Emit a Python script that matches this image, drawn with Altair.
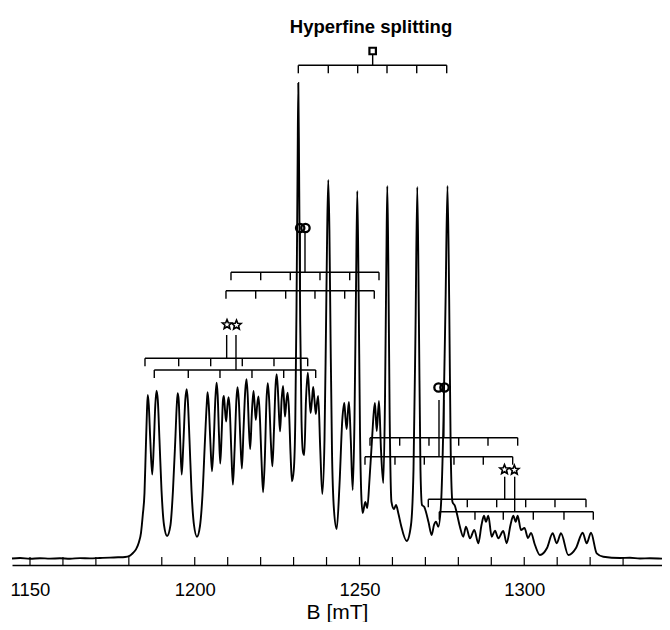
import altair as alt
import pandas as pd

# ---------------- spectrum (B in mT, intensity in arbitrary units) ----------------
FIELD_MT = [
    1144.54, 1146.97, 1150.00, 1153.03, 1156.07, 1159.10, 1162.14, 1165.17, 1168.21, 1171.24,
    1174.28, 1176.71, 1178.83, 1180.23, 1181.26, 1182.17, 1183.08, 1183.69, 1184.23, 1184.75,
    1185.14, 1185.51, 1185.75, 1186.05, 1186.51, 1187.09, 1187.57, 1188.03, 1188.39, 1188.79,
    1189.30, 1189.91, 1190.67, 1191.61, 1192.64, 1193.40, 1194.10, 1194.55, 1194.83, 1195.13,
    1195.58, 1196.04, 1196.53, 1197.13, 1197.56, 1197.89, 1198.41, 1199.01, 1199.77, 1200.68,
    1201.59, 1202.35, 1203.11, 1203.63, 1203.90, 1204.26, 1204.72, 1205.24, 1205.78, 1206.24,
    1206.63, 1206.96, 1207.36, 1207.75, 1208.21, 1208.57, 1208.85, 1209.18, 1209.54, 1209.94,
    1210.27, 1210.64, 1211.09, 1211.58, 1212.09, 1212.64, 1212.97, 1213.37, 1213.85, 1214.31,
    1214.80, 1215.34, 1215.71, 1216.07, 1216.46, 1216.83, 1217.31, 1217.83, 1218.19, 1218.53,
    1218.95, 1219.35, 1219.74, 1220.26, 1220.74, 1221.26, 1221.78, 1222.17, 1222.59, 1223.14,
    1223.57, 1224.05, 1224.54, 1224.87, 1225.24, 1225.57, 1225.90, 1226.36, 1226.78, 1227.09,
    1227.39, 1227.85, 1228.21, 1228.60, 1229.09, 1229.51, 1230.06, 1230.52, 1230.88, 1231.21,
    1231.43, 1231.67, 1232.00, 1232.40, 1232.85, 1233.25, 1233.76, 1234.31, 1234.77, 1235.16,
    1235.58, 1235.95, 1236.34, 1236.74, 1237.10, 1237.47, 1238.10, 1238.71, 1239.38, 1239.83,
    1240.20, 1240.53, 1240.87, 1241.23, 1241.65, 1242.26, 1243.08, 1243.93, 1244.78, 1245.39,
    1245.75, 1246.12, 1246.48, 1246.81, 1247.36, 1247.94, 1248.48, 1248.94, 1249.33, 1249.73,
    1250.15, 1250.55, 1250.97, 1251.76, 1252.37, 1253.03, 1253.79, 1254.34, 1254.70, 1255.22,
    1255.92, 1256.53, 1257.22, 1257.74, 1258.16, 1258.44, 1258.74, 1259.14, 1259.71, 1260.47,
    1261.08, 1261.84, 1262.59, 1264.33, 1265.63, 1266.39, 1267.00, 1267.54, 1268.03, 1268.51,
    1268.97, 1269.67, 1270.18, 1270.94, 1271.91, 1272.61, 1273.22, 1273.92, 1274.73, 1275.49,
    1276.13, 1276.71, 1277.22, 1277.68, 1278.22, 1278.98, 1279.59, 1280.50, 1281.50, 1282.32,
    1283.54, 1284.84, 1286.06, 1287.03, 1287.78, 1288.39, 1289.09, 1290.12, 1291.12, 1292.13,
    1293.64, 1294.67, 1295.83, 1296.68, 1297.41, 1298.01, 1299.01, 1300.08, 1301.14, 1302.05,
    1303.26, 1304.78, 1306.91, 1308.63, 1309.85, 1311.15, 1313.37, 1315.71, 1317.74, 1318.95,
    1320.26, 1321.99, 1324.00, 1329.06, 1332.09, 1335.13, 1338.16, 1341.81,
]
INTENSITY = [
    6.5, 7.0, 6.2, 6.8, 6.4, 6.7, 6.3, 6.9, 6.6, 7.0,
    7.4, 7.7, 8.0, 9.2, 12.0, 15.6, 23.0, 32.2, 50.0, 72.0,
    115.0, 155.0, 170.0, 160.0, 125.0, 90.4, 120.0, 160.0, 174.4, 165.0,
    125.0, 75.0, 40.0, 29.0, 40.0, 75.0, 125.0, 160.0, 171.8, 165.0,
    125.0, 90.4, 120.0, 165.0, 175.8, 165.0, 125.0, 75.0, 40.0, 28.3,
    39.0, 70.0, 125.0, 160.0, 172.8, 160.0, 125.0, 93.7, 125.0, 165.0,
    182.4, 170.0, 130.0, 101.4, 135.0, 165.0, 169.1, 155.0, 143.5, 160.0,
    167.8, 155.0, 115.0, 80.4, 115.0, 165.0, 177.8, 165.0, 125.0, 96.4,
    135.0, 175.0, 185.7, 170.0, 135.0, 116.0, 150.0, 174.1, 160.0, 145.2,
    160.0, 168.5, 150.0, 105.0, 72.8, 105.0, 165.0, 181.7, 165.0, 120.0,
    98.7, 135.0, 180.0, 190.7, 175.0, 150.0, 133.6, 165.0, 179.1, 165.0,
    148.5, 165.0, 172.4, 155.0, 110.0, 83.7, 95.0, 145.0, 255.0, 395.0,
    482.0, 395.0, 245.0, 145.0, 113.0, 110.0, 165.0, 192.4, 170.0, 152.0,
    165.0, 178.0, 165.0, 151.0, 162.0, 169.0, 115.0, 71.0, 125.0, 235.0,
    335.0, 385.0, 335.0, 225.0, 115.0, 55.0, 36.0, 80.0, 145.0, 162.0,
    147.0, 136.0, 153.0, 163.0, 125.0, 75.0, 145.0, 275.0, 374.0, 275.0,
    135.0, 70.0, 52.0, 63.0, 57.0, 85.0, 125.0, 153.0, 162.0, 134.0,
    164.0, 115.0, 82.0, 165.0, 305.0, 379.0, 305.0, 155.0, 63.0, 56.0,
    60.0, 51.0, 40.0, 24.0, 40.0, 95.0, 235.0, 378.0, 245.0, 95.0,
    60.0, 58.0, 53.0, 43.0, 30.0, 40.0, 43.3, 38.3, 60.0, 145.0,
    265.0, 379.0, 265.0, 115.0, 63.0, 59.0, 51.0, 38.0, 28.3, 38.3,
    26.7, 35.0, 21.7, 40.0, 49.3, 43.3, 49.3, 28.3, 34.3, 26.7,
    34.0, 21.7, 40.0, 49.3, 43.3, 49.3, 35.0, 37.0, 27.0, 32.0,
    20.0, 10.0, 17.0, 31.7, 21.7, 31.7, 10.0, 17.0, 32.3, 21.7,
    32.3, 11.7, 8.3, 7.0, 7.2, 6.5, 6.8, 6.4,
]

# ---------------- axis ----------------
AXIS_TICKS = [1150, 1160, 1170, 1180, 1190, 1200, 1210, 1220, 1230, 1240,
              1250, 1260, 1270, 1280, 1290, 1300, 1310, 1320, 1330]
AXIS_LABELS = [1150, 1200, 1250, 1300]
X_DOMAIN = [1144.54, 1341.81]
Y_DOMAIN = [0, 557]

# ---------------- hyperfine combs ----------------
COMB_NAMES = ["sq", "oA", "oB", "oC", "oD", "sE", "sF", "sG", "sH"]
COMB_LINES = {
    "sq": [1231.43, 1240.53, 1249.45, 1258.35, 1267.37, 1276.47],
    "oA": [1211.00, 1220.02, 1229.00, 1238.01, 1247.03, 1255.92],
    "oB": [1209.48, 1218.50, 1227.60, 1236.49, 1245.51, 1254.49],
    "oC": [1253.19, 1262.20, 1271.09, 1280.11, 1289.00, 1298.01],
    "oD": [1251.67, 1260.77, 1269.67, 1278.68, 1287.57, 1296.49],
    "sE": [1184.90, 1195.13, 1204.84, 1214.43, 1224.05, 1234.28],
    "sF": [1187.72, 1198.04, 1207.66, 1217.37, 1227.00, 1236.71],
    "sG": [1270.88, 1282.72, 1291.64, 1300.44, 1309.33, 1318.74],
    "sH": [1274.22, 1285.05, 1293.64, 1302.75, 1312.06, 1320.96],
}
COMB_LEVEL = {"sq": 499.7, "oA": 292.7, "oB": 274.3, "oC": 127.3, "oD": 108.3,
              "sE": 206.7, "sF": 195.0, "sG": 65.7, "sH": 53.3}
STEM_B = {"sq": 1254.0, "oA": 1233.46, "oB": 1231.99, "oC": 1275.60, "oD": 1274.13,
          "sE": 1209.69, "sF": 1212.52, "sG": 1294.07, "sH": 1297.10}
STEM_TOP = {"sq": 510.0, "oA": 332.0, "oB": 332.0, "oC": 165.0, "oD": 165.0,
            "sE": 230.0, "sF": 230.0, "sG": 88.3, "sH": 88.3}
MARKER_B = {"sq": 1254.0, "oA": 1233.6, "oB": 1232.0, "oC": 1275.8, "oD": 1273.98,
            "sE": 1209.79, "sF": 1212.67, "sG": 1294.0, "sH": 1297.0}
MARKER_LEVEL = {"sq": 514.0, "oA": 337.0, "oB": 337.0, "oC": 177.5, "oD": 177.5,
                "sE": 240.5, "sF": 240.0, "sG": 95.5, "sH": 95.0}
MARKER_KIND = {"sq": "square", "oA": "circle", "oB": "circle", "oC": "circle", "oD": "circle",
               "sE": "star", "sF": "star", "sG": "star", "sH": "star"}

TITLE_TEXT = ["Hyperfine splitting"]
TITLE_B = [1253.5]
TITLE_LEVEL = [532.3]

TICK_LEN = 8.0

STAR_PATH = ("M0,-1 L0.2645,-0.364 L0.951,-0.309 L0.428,0.139 L0.588,0.809 L0,0.45 "
             "L-0.588,0.809 L-0.428,0.139 L-0.951,-0.309 L-0.2645,-0.364 Z")

# ---------------- data frames (all x fields named "B", all y fields "I") ----------------
spec = pd.DataFrame({"B": FIELD_MT, "I": INTENSITY})
axis_ticks = pd.DataFrame({"B": AXIS_TICKS, "I": 0.0, "I2": TICK_LEN})

bars, cticks, stems, marks = [], [], [], []
for n in COMB_NAMES:
    t = COMB_LINES[n]
    lv = COMB_LEVEL[n]
    bars.append({"B": min(t), "B2": max(t), "I": lv})
    for v in t:
        cticks.append({"B": v, "I": lv, "I2": lv - TICK_LEN})
    stems.append({"B": STEM_B[n], "I": lv, "I2": STEM_TOP[n]})
    marks.append({"B": MARKER_B[n], "I": MARKER_LEVEL[n], "kind": MARKER_KIND[n]})
bars = pd.DataFrame(bars)
cticks = pd.DataFrame(cticks)
stems = pd.DataFrame(stems)
marks = pd.DataFrame(marks)
title_df = pd.DataFrame({"B": TITLE_B, "I": TITLE_LEVEL, "t": TITLE_TEXT})

xs = alt.Scale(domain=X_DOMAIN, nice=False, zero=False)
ys = alt.Scale(domain=Y_DOMAIN, nice=False, zero=False)

x_axis = alt.Axis(
    values=AXIS_LABELS, format="d", ticks=False, grid=False, domain=True,
    domainColor="black", domainWidth=1.6, labelFlush=False,
    labelFont="Liberation Sans", labelFontSize=18.5, labelColor="black", labelPadding=15,
    title="B [mT]", titleFont="Liberation Sans", titleFontSize=21, titleFontWeight="normal",
    titleColor="black", titleBaseline="alphabetic", titleY=53,
)

X = alt.X("B:Q", scale=xs, axis=x_axis, title="B [mT]")
Y = alt.Y("I:Q", scale=ys, axis=None)

line = alt.Chart(spec).mark_line(color="black", strokeWidth=1.9, interpolate="monotone").encode(
    x=X, y=Y,
)

tick_layer = alt.Chart(axis_ticks).mark_rule(color="black", strokeWidth=1.2).encode(
    x=X, y=Y, y2="I2:Q",
)

bar_layer = alt.Chart(bars).mark_rule(color="black", strokeWidth=1.4).encode(
    x=X, x2="B2:Q", y=Y,
)
ctick_layer = alt.Chart(cticks).mark_rule(color="black", strokeWidth=1.4).encode(
    x=X, y=Y, y2="I2:Q",
)
stem_layer = alt.Chart(stems).mark_rule(color="black", strokeWidth=1.4).encode(
    x=X, y=Y, y2="I2:Q",
)

def marker(kind, shape, size, sw):
    return alt.Chart(marks).transform_filter(alt.datum.kind == kind).mark_point(
        shape=shape, size=size, filled=False, stroke="black", strokeWidth=sw, opacity=1,
        fill="white" if kind == "square" else "transparent",
    ).encode(x=X, y=Y)

sq_layer = marker("square", "square", 42, 2.2)
circ_layer = marker("circle", "circle", 70, 2.3)
star_layer = marker("star", STAR_PATH, 95, 1.6)

title_layer = alt.Chart(title_df).mark_text(
    font="Liberation Sans", fontSize=18.5, fontWeight="bold", color="black",
    align="center", baseline="alphabetic",
).encode(x=X, y=Y, text="t:N")

chart = alt.layer(
    line, tick_layer, bar_layer, ctick_layer, stem_layer,
    sq_layer, circ_layer, star_layer, title_layer,
).properties(
    width=650, height=557,
    autosize=alt.AutoSizeParams(type="none"),
    padding={"left": 4, "top": 0, "right": 0, "bottom": 57},
    background="white",
).configure_view(strokeWidth=0)

chart.save("out.html", embed_options={"renderer": "svg", "actions": False})
